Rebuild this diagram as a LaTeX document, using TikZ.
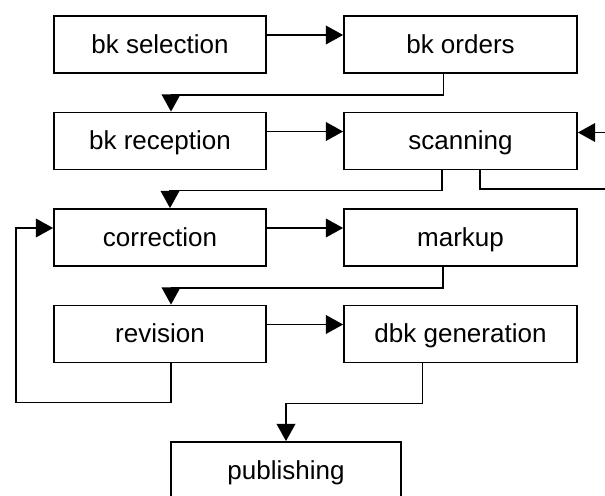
\documentclass[tikz,border=0pt]{standalone}
\usepackage{fontspec}
\setmainfont{Liberation Sans}
\usetikzlibrary{arrows.meta,calc}
\definecolor{wfInk}{HTML}{000000}
\tikzset{
  wf box/.style={draw=wfInk, line width=1.3pt, minimum height=42.75pt, inner sep=0pt, text height=15pt, text depth=2.2pt, font=\fontsize{19.5}{22}\selectfont, text=wfInk},
  wf left/.style={wf box, minimum width=159pt},
  wf right/.style={wf box, minimum width=174.75pt},
  wf line/.style={draw=wfInk, line width=1.3pt},
  wf flow/.style={wf line, -{Triangle[length=13pt,width=14pt]}},
}
\begin{document}
\begin{tikzpicture}[x=0.75pt,y=-0.75pt]
\useasboundingbox(0,0)rectangle(605,495);
\node[wf left](sel)at(160,44.5){bk selection};\node[wf right](ord)at(460.5,44.5){bk orders};
\node[wf left](rec)at(160,141){bk reception};\node[wf right](scan)at(460.5,141){scanning};
\node[wf left](corr)at(160,237.5){correction};\node[wf right](mark)at(460.5,237.5){markup};
\node[wf left](rev)at(160,334){revision};\node[wf right](dbk)at(460.5,334){dbk generation};
\node[wf box,minimum width=172.5pt](pub)at(286,470.5){publishing};
% the outside loop of scanning runs off the right edge
\coordinate(scanIn)at(615,132.5);\coordinate(scanOut)at(615,189);
% row to row
\draw[wf flow]($(sel.east)+(0,-9.5)$)--($(ord.west)+(0,-9.5)$);
\draw[wf flow]($(rec.east)+(0,-9.5)$)--($(scan.west)+(0,-9.5)$);
\draw[wf flow]($(corr.east)+(0,-9.5)$)--($(mark.west)+(0,-9.5)$);
\draw[wf flow]($(rev.east)+(0,-9.5)$)--($(dbk.west)+(0,-9.5)$);
% right column back down to the left one
\draw[wf flow]($(ord.south)+(-17,0)$)--++(0,21)-|($(rec.north)+(11,0)$);
\draw[wf flow]($(scan.south)+(-18.5,0)$)--++(0,20)-|($(corr.north)+(10,0)$);
\draw[wf flow]($(mark.south)+(-17.5,0)$)--++(0,21)-|($(rev.north)+(11,0)$);
\draw[wf flow]($(dbk.south)+(-38,0)$)--++(0,40)-|(pub.north);
% scanning loop and revision loop
\draw[wf line]($(scan.south)+(19.5,0)$)|-(scanOut);
\draw[wf flow](scanIn)--($(scan.east)+(0,-8.5)$);
\draw[wf flow]($(rev.south)+(11,0)$)--++(0,39)--++(-155,0)|-($(corr.west)+(0,-9.5)$);
\end{tikzpicture}
\end{document}
